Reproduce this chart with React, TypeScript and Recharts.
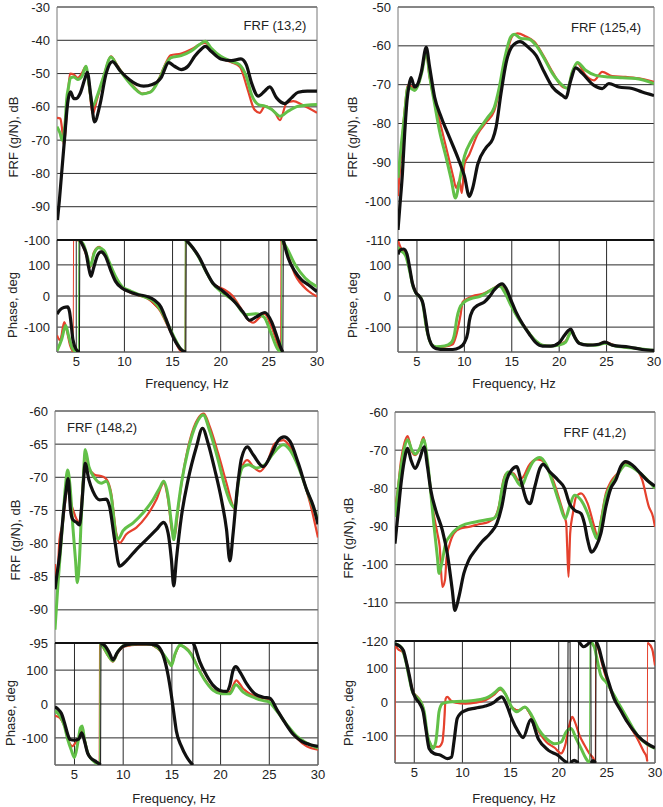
import React from "react";
import { LineChart, Line, XAxis, YAxis, CartesianGrid, ReferenceArea, ReferenceLine } from "recharts";

type Pt = [number, number];

const FONT = '"Liberation Sans", Arial, sans-serif';
const X_TICKS = [5, 10, 15, 20, 25, 30];
const PHASE_TICKS = [-100, 0, 100];
const COLORS = ["#e5412d", "#62c048", "#111111"];
const WIDTHS = [2.2, 3, 3.2];

// ---- FRF (13,2) ----
const tlMagRed: Pt[] = [[3.0,-63.3],[3.35,-63.5],[3.5,-66],[3.72,-71.5],[3.92,-65.8],[4.1,-57.8],[4.35,-50],[4.75,-50.3],[5.15,-51.3],[5.6,-49.8],[6.0,-47.8],[6.35,-54.3],[6.7,-62.2],[7.15,-57.8],[7.85,-50.8],[8.6,-44.8],[9.25,-47.5],[10.1,-51],[11.0,-54],[11.85,-56],[12.7,-55.5],[13.6,-51.5],[14.3,-46.8],[14.8,-44.5],[15.9,-44],[16.9,-42.8],[17.8,-41.3],[18.4,-40.8],[19.0,-42.8],[20.0,-45.3],[21.1,-46.6],[22.0,-48],[22.8,-54.8],[23.5,-60.8],[24.05,-61.8],[24.6,-59.8],[25.1,-60.3],[25.65,-61.8],[26.15,-64],[26.85,-58.8],[27.55,-58.3],[28.4,-59.3],[30,-61.8]];
const tlMagGreen: Pt[] = [[3.0,-66],[3.3,-67.8],[3.55,-70],[3.85,-64.5],[4.0,-57.8],[4.2,-54],[4.4,-51.3],[4.75,-51],[5.15,-51.8],[5.6,-50.8],[6.0,-47.8],[6.35,-53.8],[6.7,-59.8],[7.2,-56.5],[7.85,-50.8],[8.6,-45],[9.25,-47.8],[10.1,-51.3],[11.0,-54.3],[11.85,-56.1],[12.7,-55.6],[13.6,-51.8],[14.3,-47.3],[14.8,-45.3],[15.9,-44.6],[16.9,-43.3],[17.8,-41.3],[18.4,-40.3],[19.0,-42.3],[20.0,-44.8],[21.1,-46.3],[21.95,-47.3],[22.65,-50.8],[23.2,-56.3],[23.9,-59.3],[24.6,-59.8],[25.3,-60.8],[26.15,-62.8],[27.0,-61.3],[28.05,-59.8],[30,-59.3]];
const tlMagBlack: Pt[] = [[3.05,-94],[3.25,-88],[3.45,-81],[3.8,-69],[4.1,-59],[4.4,-55.5],[4.75,-57.5],[5.0,-57.5],[5.4,-56],[5.9,-51.5],[6.15,-49.6],[6.5,-56.5],[6.9,-64.5],[7.45,-59.5],[8.1,-50],[8.75,-46.4],[9.6,-49.3],[10.5,-51.8],[11.3,-53.3],[12.0,-53.8],[12.9,-53.3],[13.8,-51.3],[14.6,-46.7],[15.2,-47.8],[15.9,-48.8],[16.6,-47.8],[17.3,-44.8],[18.0,-42.6],[18.4,-41.8],[19.0,-43.3],[20.0,-45.6],[21.1,-46.1],[22.1,-45.6],[22.65,-47.3],[23.2,-52.8],[23.9,-56.8],[24.55,-55.3],[25.1,-54],[25.8,-57.3],[26.65,-59],[27.35,-57.3],[28.05,-55.6],[29.0,-55.3],[30,-55.3]];
const tlPhRed: Pt[] = [[3.0,-127],[3.33,-143],[3.75,-84],[4.02,-111],[4.37,-160],[4.68,-180],[4.72,180],[5.4,177],[5.77,155],[6.18,117],[6.46,93],[6.81,139],[7.16,155],[7.4,158],[7.68,150],[8.2,117],[8.9,63],[9.6,30],[10.5,13],[11.5,2],[12.4,-8],[13.78,-51],[14.48,-95],[15.17,-138],[15.9,-178],[16.3,-180],[16.34,180],[17.1,155],[17.8,122],[18.5,78],[19.2,40],[20.4,20],[21.2,2],[22.0,-35],[22.8,-75],[23.36,-86],[24.0,-70],[24.58,-57],[25.3,-100],[25.8,-145],[26.15,-176],[26.22,-180],[26.26,180],[26.7,155],[27.72,68],[29.1,16],[30,-2]];
const tlPhGreen: Pt[] = [[3.0,-176],[3.5,-138],[3.9,-95],[4.2,-127],[4.55,-165],[4.9,-178],[5.22,-180],[5.26,180],[5.75,166],[6.18,123],[6.46,96],[6.88,139],[7.33,155],[7.86,147],[8.38,112],[9.08,63],[9.77,30],[10.64,16],[12.0,-2],[13.08,-18],[13.78,-46],[14.48,-89],[15.17,-133],[15.87,-171],[16.28,-180],[16.32,180],[17.1,155],[17.8,120],[18.5,77],[19.2,40],[20.05,14],[21.45,-18],[22.6,-60],[23.65,-57],[24.5,-68],[25.2,-117],[25.9,-170],[26.3,-180],[26.35,180],[26.85,155],[27.72,101],[28.76,58],[30,30]];
const tlPhBlack: Pt[] = [[3.0,-58],[3.3,-45],[3.7,-37],[4.1,-35],[4.3,-50],[4.45,-85],[4.65,-140],[5.0,-172],[5.33,-180],[5.37,180],[5.7,161],[6.05,134],[6.3,90],[6.53,63],[6.8,90],[7.23,132],[7.58,142],[8.03,128],[8.55,85],[9.08,47],[9.77,25],[10.47,14],[11.34,5],[12.4,-2],[13.1,-13],[13.78,-35],[14.3,-73],[14.83,-116],[15.35,-149],[16.05,-176],[16.38,-180],[16.42,180],[17.1,155],[17.8,123],[18.5,79],[19.2,41],[20.05,20],[20.9,-2],[21.6,-24],[22.3,-51],[23.0,-78],[23.7,-67],[24.6,-53],[25.3,-84],[25.8,-127],[26.3,-171],[26.45,-180],[26.5,180],[27.0,123],[27.7,79],[28.4,52],[29.1,36],[30,14]];

// ---- FRF (125,4) ----
const trMagRed: Pt[] = [[3.0,-98.7],[3.25,-90.5],[3.7,-76.7],[4.05,-70.2],[4.4,-70.4],[4.75,-71.3],[5.1,-70.2],[5.56,-65.8],[5.98,-62],[6.33,-68],[7.03,-75.8],[7.73,-82.7],[8.43,-89.7],[8.85,-94],[9.13,-96.6],[9.48,-94.8],[9.73,-97.9],[10.01,-90.5],[10.53,-87.9],[11.41,-82.7],[12.29,-79.7],[13.16,-76.7],[13.69,-71.5],[14.39,-62.8],[15.09,-57.4],[15.61,-56.8],[16.49,-57.6],[17.36,-58.9],[18.41,-62.8],[19.29,-66.7],[20.52,-70.8],[20.87,-70.8],[21.39,-66.7],[21.92,-64.5],[22.79,-67.6],[23.67,-68.9],[24.54,-66.7],[25.59,-67.8],[26.99,-68],[28.4,-68.4],[30,-69.3]];
const trMagGreen: Pt[] = [[3.0,-94],[3.35,-85.3],[3.7,-77.5],[4.05,-70.6],[4.4,-71],[4.75,-71.5],[5.1,-70.2],[5.56,-66.3],[5.98,-61.2],[6.33,-67.6],[6.86,-74.9],[7.38,-81.9],[8.08,-88.8],[8.61,-94.4],[9.06,-99.2],[9.48,-94.8],[10.01,-88.4],[10.71,-84.5],[11.59,-81.4],[12.46,-78.4],[13.16,-75.8],[13.69,-70.6],[14.21,-63.7],[14.91,-57.6],[15.26,-57],[15.96,-58.1],[16.84,-58.3],[17.54,-59.8],[18.41,-63.2],[19.29,-67.1],[20.34,-70.2],[20.87,-71],[21.39,-66.7],[21.92,-64.3],[22.79,-66.3],[23.84,-67.6],[25.24,-68],[26.64,-68.2],[28.05,-68.4],[30,-69.7]];
const trMagBlack: Pt[] = [[3.0,-107.4],[3.18,-101.8],[3.46,-93.1],[3.7,-82.7],[3.95,-74.1],[4.16,-70.2],[4.37,-68.2],[4.75,-70.6],[5.0,-70.2],[5.46,-66.7],[5.98,-60.4],[6.33,-65.4],[6.86,-73.2],[7.56,-78.4],[8.43,-83.6],[9.31,-88.8],[10.0,-93.5],[10.53,-98.8],[10.88,-96.6],[11.41,-90.5],[12.29,-86.2],[12.99,-84],[13.34,-81],[13.86,-72.3],[14.39,-64.5],[15.09,-60],[15.86,-58.9],[16.84,-60.6],[17.54,-62.4],[18.41,-66.7],[19.29,-70.6],[20.34,-72.8],[20.69,-73.4],[21.22,-68.9],[21.74,-65.7],[22.44,-67.1],[23.67,-70.2],[24.54,-71],[25.24,-69.7],[26.29,-70.6],[27.69,-71],[28.75,-71.9],[30,-72.8]];
const trPhRed: Pt[] = [[3.0,178],[3.25,158],[3.81,132],[4.23,85],[4.58,36],[5.0,8],[5.4,-4],[5.7,-35],[5.95,-95],[6.2,-130],[6.51,-155],[7.03,-165],[7.91,-163],[8.78,-155],[9.13,-128],[9.41,-90],[9.59,-62],[9.83,-19],[10.36,-8],[10.88,0],[11.94,7],[12.99,23],[13.69,34],[14.21,20],[14.91,-25],[15.61,-65],[16.49,-104],[17.36,-140],[18.24,-158],[19.12,-161],[19.99,-156],[20.69,-145],[21.11,-120],[21.32,-112],[21.74,-137],[22.44,-155],[23.84,-157],[24.82,-148],[25.94,-160],[28.05,-168],[30,-177]];
const trPhGreen: Pt[] = [[3.0,156],[3.35,145],[3.81,129],[4.23,80],[4.58,31],[5.0,5],[5.4,-5],[5.7,-40],[5.95,-95],[6.2,-130],[6.51,-155],[7.03,-163],[7.91,-161],[8.61,-150],[8.96,-122],[9.2,-73],[9.48,-40],[10.01,-19],[10.71,-8],[11.59,-2],[12.29,9],[13.16,25],[13.75,31],[14.21,14],[14.91,-30],[15.61,-68],[16.49,-106],[17.36,-139],[18.24,-158],[19.12,-161],[19.99,-158],[20.69,-148],[21.11,-122],[21.32,-115],[21.74,-139],[22.44,-155],[23.84,-158],[24.82,-152],[25.94,-161],[28.05,-168],[30,-175]];
const trPhBlack: Pt[] = [[3.0,134],[3.25,148],[3.6,151],[3.95,134],[4.23,91],[4.51,42],[4.86,12],[5.28,-2],[5.63,-24],[5.91,-73],[6.16,-122],[6.51,-155],[7.03,-169],[7.91,-172],[8.78,-172],[9.48,-166],[10.0,-150],[10.36,-117],[10.53,-79],[10.88,-46],[11.41,-30],[12.11,-19],[12.64,-2],[13.16,20],[13.69,36],[13.97,39],[14.39,25],[14.91,-13],[15.44,-51],[16.14,-90],[16.84,-122],[17.54,-150],[18.24,-161],[19.12,-161],[19.99,-150],[20.52,-128],[20.97,-111],[21.22,-106],[21.57,-128],[22.09,-152],[22.97,-158],[24.19,-155],[24.82,-148],[25.59,-158],[27.34,-164],[28.75,-172],[30,-175]];

// ---- FRF (148,2) ----
const blMagRed: Pt[] = [[3.0,-83.1],[3.18,-86.4],[3.46,-79.4],[3.8,-76.9],[4.07,-73.4],[4.38,-70.6],[4.59,-73.4],[4.9,-75.1],[5.24,-76.4],[5.51,-76.9],[5.86,-70.9],[6.13,-66.4],[6.48,-68.6],[7.06,-69.6],[7.92,-69.9],[8.33,-70.4],[8.77,-72.4],[9.29,-78.4],[9.63,-79.9],[10.32,-78.6],[11.35,-77.6],[12.38,-75.9],[13.4,-73.4],[14.16,-70.9],[14.61,-73.4],[15.05,-78.4],[15.29,-78.9],[15.63,-74.9],[16.15,-69.4],[16.84,-64.4],[17.69,-61.1],[18.28,-60.4],[18.9,-62.4],[19.75,-66.4],[20.61,-70.9],[21.29,-74.4],[21.47,-74.9],[21.81,-70.4],[22.74,-67.4],[23.35,-68.4],[24.04,-69.1],[24.73,-67.9],[25.58,-64.9],[26.44,-64.4],[27.13,-65.4],[28.16,-68.9],[29.19,-73.9],[30,-79.1]];
const blMagGreen: Pt[] = [[3.0,-93],[3.05,-91.8],[3.32,-85.8],[3.84,-75.8],[4.07,-71.4],[4.3,-68.9],[4.55,-71.4],[4.83,-77.4],[5.1,-82.4],[5.29,-85.9],[5.51,-82.4],[5.7,-76],[5.93,-69.4],[6.1,-65.8],[6.48,-68.4],[7.06,-70.1],[7.74,-70.9],[8.26,-70.6],[8.77,-72.9],[9.29,-78.9],[9.5,-79.3],[9.97,-78.1],[11.0,-76.9],[12.03,-75.4],[13.06,-73.4],[13.75,-71.6],[14.16,-70.6],[14.61,-72.9],[14.95,-76.9],[15.19,-79.4],[15.46,-76.4],[15.98,-70.9],[16.66,-65.9],[17.52,-61.9],[18.21,-60.6],[18.9,-63.1],[19.75,-67.4],[20.44,-71.4],[21.12,-74.1],[21.47,-74.6],[21.81,-70.9],[22.32,-68.4],[22.84,-68.1],[23.7,-68.6],[24.55,-68.1],[25.41,-66.4],[26.44,-65.1],[27.13,-65.9],[27.98,-68.4],[28.84,-71.9],[30,-76.4]];
const blMagBlack: Pt[] = [[3.0,-86.9],[3.18,-84.9],[3.46,-81.9],[3.84,-75.8],[4.14,-72],[4.35,-70.2],[4.59,-74.9],[4.83,-76.4],[5.2,-76.8],[5.51,-77.2],[5.79,-73.4],[5.96,-69.9],[6.1,-67.9],[6.48,-70.4],[6.89,-72.1],[7.57,-73.4],[8.26,-73.3],[8.6,-74.4],[9.12,-79.4],[9.63,-83.4],[10.32,-82.6],[11.35,-80.9],[12.38,-79.4],[13.4,-77.9],[14.16,-76.8],[14.61,-78.4],[14.95,-82.4],[15.19,-86.4],[15.46,-82.4],[15.98,-75.9],[16.66,-70.4],[17.52,-65.4],[18.14,-62.6],[18.72,-64.9],[19.41,-68.9],[20.09,-73.4],[20.61,-77.9],[20.95,-82.6],[21.29,-78.4],[21.71,-71.8],[22.15,-67.1],[22.74,-65.4],[23.35,-66.6],[24.38,-68.4],[25.24,-66.4],[25.93,-64.4],[26.51,-63.9],[27.13,-64.6],[27.98,-67.9],[28.84,-71.9],[29.53,-74.4],[30,-77.1]];
const blPhRed: Pt[] = [[3.0,-35],[3.46,-40],[3.97,-65],[4.41,-110],[4.76,-125],[5.1,-115],[5.45,-105],[5.72,-75],[6.03,-105],[6.37,-145],[7.06,-170],[7.5,-179],[7.53,-180],[7.57,180],[7.92,168],[8.43,143],[8.95,125],[9.46,152],[10.15,170],[11.5,175],[12.8,175],[13.75,158],[14.43,133],[14.95,115],[15.29,143],[15.81,172],[16.32,168],[17.01,147],[17.69,108],[18.38,73],[19.24,42],[20.09,32],[20.95,35],[21.6,70],[22.32,45],[23.35,25],[24.38,17],[25.07,15],[25.75,-15],[26.61,-55],[27.81,-100],[28.84,-125],[30,-135]];
const blPhGreen: Pt[] = [[3.0,-20],[3.46,-33],[3.97,-65],[4.31,-105],[4.66,-135],[5.0,-158],[5.34,-115],[5.62,-70],[5.79,-65],[6.03,-105],[6.37,-145],[6.89,-167],[7.45,-178],[7.58,-180],[7.62,180],[7.92,170],[8.43,145],[8.95,127],[9.46,155],[10.15,173],[11.5,178],[12.8,177],[13.75,160],[14.43,135],[14.78,120],[14.95,113],[15.29,145],[15.81,173],[16.32,167],[17.01,145],[17.69,105],[18.38,70],[19.24,40],[20.09,30],[20.95,30],[21.57,57],[22.32,35],[23.35,20],[24.38,10],[24.9,7],[25.75,-20],[26.78,-60],[27.81,-95],[28.84,-115],[30,-130]];
const blPhBlack: Pt[] = [[3.0,-8],[3.3,-15],[3.66,-28],[3.97,-55],[4.31,-90],[4.55,-105],[5.0,-107],[5.45,-103],[5.75,-85],[6.05,-112],[6.35,-145],[6.7,-160],[7.1,-168],[7.5,-176],[7.68,-180],[7.72,180],[8.19,170],[8.6,150],[8.95,130],[9.36,150],[9.97,170],[11.0,177],[12.38,177],[13.4,173],[14.09,145],[14.61,85],[14.95,25],[15.19,-25],[15.46,-80],[15.98,-125],[16.49,-155],[16.9,-172],[17.15,-180],[17.2,180],[17.35,170],[17.86,125],[18.55,85],[19.24,55],[19.92,40],[20.61,37],[20.95,55],[21.29,100],[21.57,110],[21.98,95],[22.67,60],[23.52,30],[24.38,20],[25.07,17],[25.75,-15],[26.61,-55],[27.47,-90],[28.33,-110],[29.19,-120],[30,-125]];

// ---- FRF (41,2) ----
const brMagRed: Pt[] = [[3.0,-85.3],[3.28,-80.5],[3.63,-72.6],[3.97,-68.2],[4.31,-66.3],[4.76,-70.4],[5.1,-71.3],[5.58,-69.5],[5.96,-66.6],[6.37,-73],[6.89,-84.8],[7.4,-91.8],[7.64,-95.3],[7.92,-105.8],[8.19,-104],[8.36,-98],[8.6,-95.3],[9.12,-91.8],[9.8,-90.5],[10.66,-90.1],[11.69,-89.4],[12.72,-88.8],[13.4,-87.5],[13.92,-83.1],[14.26,-77.8],[14.61,-76.1],[15.29,-76.1],[15.81,-77.8],[16.32,-77],[16.84,-74.3],[17.69,-72.4],[18.21,-72.6],[18.72,-74.3],[19.41,-77.8],[20.09,-83.1],[20.61,-87.5],[20.78,-89.2],[20.88,-95.3],[21.02,-103.2],[21.19,-91.8],[21.47,-86.6],[21.81,-82.2],[22.32,-81.3],[23.01,-84],[23.7,-90.1],[24.04,-92.7],[24.38,-88.3],[24.9,-81.3],[25.41,-78.3],[26.1,-76.1],[26.96,-73.5],[27.81,-74.3],[28.67,-77.8],[29.36,-84.8],[29.8,-87.5],[30,-90.1]];
const brMagGreen: Pt[] = [[3.0,-87.5],[3.28,-81.3],[3.63,-74.3],[3.97,-69.5],[4.31,-67.3],[4.76,-70],[5.1,-71],[5.58,-69.5],[5.96,-67.2],[6.37,-72.6],[6.72,-81.3],[7.06,-90.1],[7.4,-98],[7.57,-102.3],[7.92,-98.8],[8.26,-94.5],[8.77,-92.3],[9.46,-90.5],[10.32,-89.4],[11.35,-88.8],[12.38,-88.3],[13.23,-87.9],[13.75,-85.7],[14.09,-80.5],[14.43,-77],[14.78,-75.7],[15.29,-76.5],[15.81,-78.7],[16.15,-79.4],[16.66,-76.5],[17.35,-73],[18.04,-71.9],[18.72,-73.9],[19.41,-78.7],[20.09,-84],[20.68,-87.9],[21.12,-84.8],[21.64,-81.8],[22.32,-83.1],[23.01,-86.6],[23.7,-91.8],[23.97,-93.2],[24.38,-89.2],[24.9,-82.2],[25.41,-79.2],[26.1,-76.5],[26.96,-73.9],[27.81,-74.8],[28.67,-76.5],[30,-80]];
const brMagBlack: Pt[] = [[3.0,-94.5],[3.28,-87.5],[3.63,-78.7],[3.97,-72.6],[4.31,-69.5],[4.66,-72.6],[5.1,-74.8],[5.58,-72.2],[6.03,-69.1],[6.37,-74.3],[6.72,-80.5],[7.23,-85.7],[7.92,-91],[8.43,-97.1],[8.95,-106.7],[9.22,-112],[9.63,-108.5],[10.15,-102.3],[10.66,-98.8],[11.35,-96.2],[12.03,-94],[12.89,-91.8],[13.58,-89.2],[14.09,-84.8],[14.61,-77.8],[15.12,-75.2],[15.63,-74.3],[16.15,-78.7],[16.66,-83.1],[17.01,-84],[17.52,-79.6],[18.04,-74.8],[18.38,-73.7],[19.07,-75.7],[19.92,-77.8],[20.61,-80],[21.12,-84],[21.64,-85.7],[22.32,-86.6],[22.67,-89.2],[23.01,-93.6],[23.42,-96.7],[23.87,-95.3],[24.38,-91.8],[24.9,-84.8],[25.41,-80],[25.93,-77.8],[26.44,-74.3],[26.96,-73],[27.64,-73.9],[28.5,-76.1],[29.36,-78.3],[30,-79.4]];
const brPhRed: Pt[] = [[3.0,-172],[3.05,168],[3.28,157],[3.8,147],[4.2,118],[4.55,69],[4.9,29],[5.34,15],[5.86,-10],[6.13,-69],[6.54,-118],[6.96,-132],[7.57,-132],[7.92,-118],[8.09,-69],[8.26,10],[8.43,15],[8.77,5],[9.29,-2],[10.32,-5],[11.35,-2],[12.38,5],[13.23,20],[13.92,37],[14.43,25],[15.12,-15],[15.81,-25],[16.49,-15],[17.18,-44],[17.86,-83],[18.72,-118],[19.58,-135],[20.26,-152],[20.68,-127],[21.02,-78],[21.4,-44],[21.7,-60],[22.15,-98],[22.67,-127],[23.18,-152],[23.7,-172],[23.8,-180],[23.84,180],[24.21,147],[24.55,108],[25.07,59],[25.75,10],[26.44,-25],[27.13,-59],[28.16,-108],[28.84,-147],[29.12,-162],[29.2,-175],[29.23,175],[29.7,157],[30,108]];
const brPhGreen: Pt[] = [[3.0,172],[3.63,162],[4.14,118],[4.49,69],[4.83,29],[5.24,15],[5.69,0],[6.03,-29],[6.37,-98],[6.72,-127],[6.96,-137],[7.23,-118],[7.4,-78],[7.57,-29],[7.92,-5],[8.6,0],[9.97,2],[11.35,5],[12.72,15],[13.4,29],[13.92,41],[14.43,25],[15.12,-15],[15.63,-29],[16.49,-15],[17.18,-39],[17.86,-78],[18.72,-108],[19.58,-123],[20.26,-118],[20.78,-88],[21.29,-78],[21.81,-108],[22.32,-137],[22.84,-167],[23.2,-180],[23.25,180],[23.7,162],[24.04,118],[24.38,78],[24.9,59],[25.75,20],[26.44,-15],[27.13,-49],[28.16,-98],[29.19,-125],[30,-137]];
const brPhBlack: Pt[] = [[3.0,172],[3.46,165],[3.87,152],[4.14,123],[4.49,78],[4.76,39],[5.17,10],[5.58,-5],[5.93,-29],[6.2,-78],[6.54,-137],[7.06,-152],[7.74,-157],[8.43,-167],[8.88,-162],[9.12,-118],[9.46,-49],[9.8,-34],[10.32,-25],[11.35,-18],[12.38,-12],[13.23,-2],[13.75,10],[14.09,15],[14.61,-10],[15.12,-49],[15.81,-88],[16.3,-105],[17.1,-52],[17.9,-110],[18.9,-142],[19.92,-157],[20.6,-174],[20.93,-180],[20.97,180],[21.18,180],[21.22,-180],[21.6,-172],[22.03,-180],[22.07,180],[22.6,163],[23.0,170],[23.33,180],[23.37,-180],[23.55,-173],[23.84,-180],[23.88,180],[24.2,157],[24.55,118],[25.07,69],[25.75,10],[26.44,-25],[27.13,-59],[28.16,-98],[29.19,-123],[30,-135]];

interface PanelCfg {
  title: string;
  magDomain: [number, number];
  magTicks: number[];
  mag: Pt[][];
  phase: Pt[][];
  // layout (page px)
  left: number; x0: number; x1: number; top: number; mid: number; bottom: number;
  titleAt: [number, number];
  magLabelAt: [number, number];
  phLabelAt: [number, number];
  freqLabelAt: [number, number];
}

const panels: PanelCfg[] = [
  {
    title: "FRF (13,2)", magDomain: [-100, -30], magTicks: [-100, -90, -80, -70, -60, -50, -40, -30],
    mag: [tlMagRed, tlMagGreen, tlMagBlack], phase: [tlPhRed, tlPhGreen, tlPhBlack],
    left: 0, x0: 57, x1: 317, top: 7, mid: 240, bottom: 352,
    titleAt: [275, 25], magLabelAt: [13, 137], phLabelAt: [12, 305], freqLabelAt: [187, 383],
  },
  {
    title: "FRF (125,4)", magDomain: [-110, -50], magTicks: [-110, -100, -90, -80, -70, -60, -50],
    mag: [trMagRed, trMagGreen, trMagBlack], phase: [trPhRed, trPhGreen, trPhBlack],
    left: 338, x0: 398, x1: 654, top: 7, mid: 240, bottom: 352,
    titleAt: [606, 27], magLabelAt: [352, 137], phLabelAt: [352, 305], freqLabelAt: [514, 383],
  },
  {
    title: "FRF (148,2)", magDomain: [-95, -60], magTicks: [-95, -90, -85, -80, -75, -70, -65, -60],
    mag: [blMagRed, blMagGreen, blMagBlack], phase: [blPhRed, blPhGreen, blPhBlack],
    left: 0, x0: 55, x1: 318, top: 411, mid: 643, bottom: 765,
    titleAt: [102, 427], magLabelAt: [15, 540], phLabelAt: [10, 713], freqLabelAt: [174, 798],
  },
  {
    title: "FRF (41,2)", magDomain: [-120, -60], magTicks: [-120, -110, -100, -90, -80, -70, -60],
    mag: [brMagRed, brMagGreen, brMagBlack], phase: [brPhRed, brPhGreen, brPhBlack],
    left: 338, x0: 395, x1: 655, top: 412, mid: 641, bottom: 763,
    titleAt: [595, 432], magLabelAt: [348, 538], phLabelAt: [348, 713], freqLabelAt: [514, 798],
  },
];

const toPts = (a: Pt[]) => a.map(([f, v]) => ({ f, v }));

// break the thick trace where the phase wraps (+180 <-> -180); the wrap itself is drawn thin
const splitWraps = (a: Pt[]) => {
  const out: { f: number; v: number | null }[] = [];
  a.forEach(([f, v], i) => {
    if (i > 0 && Math.abs(v - a[i - 1][1]) > 300) out.push({ f: (f + a[i - 1][0]) / 2, v: null });
    out.push({ f, v });
  });
  return out;
};

const tick = { fill: "#222", fontSize: 13, fontFamily: FONT };

function series(sets: Pt[][], wraps: boolean) {
  return sets.flatMap((s, i) => {
    const thick = (
      <Line
        key={`t${i}`}
        data={wraps ? splitWraps(s) : toPts(s)}
        dataKey="v"
        type="monotone"
        stroke={COLORS[i]}
        strokeWidth={WIDTHS[i]}
        dot={false}
        activeDot={false}
        connectNulls={false}
        isAnimationActive={false}
      />
    );
    if (!wraps) return [thick];
    return [
      <Line
        key={`w${i}`}
        data={toPts(s)}
        dataKey="v"
        type="linear"
        stroke={COLORS[i]}
        strokeWidth={1}
        dot={false}
        activeDot={false}
        isAnimationActive={false}
      />,
      thick,
    ];
  });
}

function textAt(text: string, x: number, y: number, rotate: boolean) {
  return () => (
    <text
      x={x}
      y={y}
      transform={rotate ? `rotate(-90 ${x} ${y})` : undefined}
      textAnchor="middle"
      dominantBaseline="central"
      fill="#222"
      fontSize={13}
      fontFamily={FONT}
    >
      {text}
    </text>
  );
}

function Panel({ c }: { c: PanelCfg }) {
  const w = Math.min(c.x1 - c.left + 10, 663 - c.left);
  const right = w - (c.x1 - c.left);
  const axisW = c.x0 - c.left;
  const magTop = c.top - 10;
  const phTop = c.mid - 2;
  return (
    <>
      <div style={{ position: "absolute", left: c.left, top: magTop }}>
        <LineChart width={w} height={c.mid - c.top + 20} margin={{ top: 10, right, bottom: 10, left: 0 }}>
          <XAxis type="number" dataKey="f" domain={[3, 30]} hide allowDataOverflow />
          <YAxis
            type="number"
            domain={c.magDomain}
            ticks={c.magTicks}
            interval={0}
            width={axisW}
            allowDataOverflow
            axisLine={false}
            tickLine={false}
            tickSize={0}
            tickMargin={7}
            tick={tick}
            label={textAt("FRF (g/N), dB", c.magLabelAt[0] - c.left, c.magLabelAt[1] - magTop, true)}
          />
          <CartesianGrid vertical={false} stroke="#2a2a2a" />
          <ReferenceArea x1={3} x2={30} y1={c.magDomain[0]} y2={c.magDomain[1]} fill="none" stroke="#777" />
          {series(c.mag, false)}
        </LineChart>
      </div>
      <div style={{ position: "absolute", left: c.left, top: phTop }}>
        <LineChart width={w} height={c.bottom - c.mid + 2 + 50} margin={{ top: 2, right, bottom: 0, left: 0 }}>
          <XAxis
            type="number"
            dataKey="f"
            domain={[3, 30]}
            ticks={X_TICKS}
            interval={0}
            height={50}
            allowDataOverflow
            axisLine={false}
            tickLine={false}
            tickSize={0}
            tickMargin={5}
            tick={tick}
            label={textAt("Frequency, Hz", c.freqLabelAt[0] - c.left, c.freqLabelAt[1] - phTop, false)}
          />
          <YAxis
            type="number"
            domain={[-180, 180]}
            ticks={PHASE_TICKS}
            interval={0}
            width={axisW}
            allowDataOverflow
            axisLine={false}
            tickLine={false}
            tickSize={0}
            tickMargin={7}
            tick={tick}
            label={textAt("Phase, deg", c.phLabelAt[0] - c.left, c.phLabelAt[1] - phTop, true)}
          />
          <CartesianGrid stroke="#2a2a2a" />
          <ReferenceArea x1={3} x2={30} y1={-180} y2={180} fill="none" stroke="#777" />
          {series(c.phase, true)}
          <ReferenceLine y={180} stroke="#111" strokeWidth={2} />
        </LineChart>
      </div>
      <div
        style={{
          position: "absolute",
          left: c.titleAt[0],
          top: c.titleAt[1],
          transform: "translate(-50%, -50%)",
          fontFamily: FONT,
          fontSize: 13,
          color: "#222",
          whiteSpace: "nowrap",
        }}
      >
        {c.title}
      </div>
    </>
  );
}

export default function App() {
  return (
    <div style={{ position: "absolute", left: 0, top: 0, width: 663, height: 807, background: "#fff", fontFamily: FONT }}>
      {panels.map((c) => (
        <Panel key={c.title} c={c} />
      ))}
    </div>
  );
}
